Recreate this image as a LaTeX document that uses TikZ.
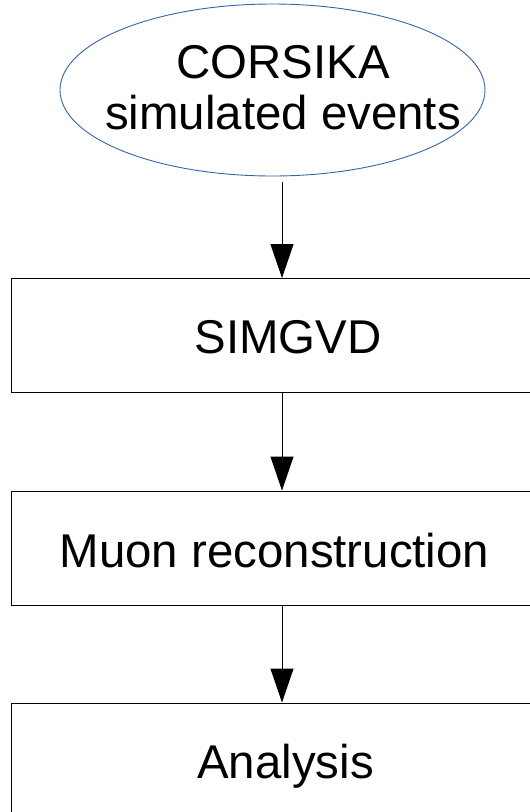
\documentclass[tikz,border=0pt]{standalone}
\usepackage{fontspec}
\setmainfont{Liberation Sans}
\usetikzlibrary{shapes.geometric,arrows.meta}
\definecolor{ellblue}{HTML}{3465A4}
\tikzset{
  flowbox/.style={draw=black, line width=1.2pt, rectangle, inner sep=0pt,
    minimum width=534pt, minimum height=114pt, anchor=north west},
  flowtext/.style={anchor=base, inner sep=0pt, font=\fontsize{47.4}{51}\selectfont},
  flowarrow/.style={draw=black, line width=1pt,
    -{Triangle[width=23pt,length=34pt]}, shorten >=0pt},
}
\begin{document}
\begin{tikzpicture}[x=1pt,y=-1pt]
  \useasboundingbox (0,0) rectangle (530,812);
  % start: simulated air showers
  \node[draw=ellblue, line width=0.9pt, ellipse, inner sep=0pt,
        minimum width=425pt, minimum height=172pt] (corsika) at (272.5,90) {};
  \node[flowtext] (corsikaA) at (283,78) {CORSIKA};
  \node[flowtext] (corsikaB) at (283,129) {simulated events};
  % processing steps
  \node[flowbox] (simgvd) at (11,278) {};
  \node[flowtext] (simgvdT) at (288,353) {SIMGVD};
  \node[flowbox] (reco) at (11,490.5) {};
  \node[flowtext] (recoT) at (274.5,567) {Muon reconstruction};
  \node[flowbox] (ana) at (11,702.5) {};
  \node[flowtext] (anaT) at (285.5,778) {Analysis};
  % connectors
  \coordinate (a1) at (282,182);
  \coordinate (a2) at (282,392);
  \coordinate (a3) at (282,605);
  \draw[flowarrow] (a1) -- (a1 |- simgvd.north);
  \draw[flowarrow] (a2) -- (a2 |- reco.north);
  \draw[flowarrow] (a3) -- (a3 |- ana.north);
\end{tikzpicture}
\end{document}
